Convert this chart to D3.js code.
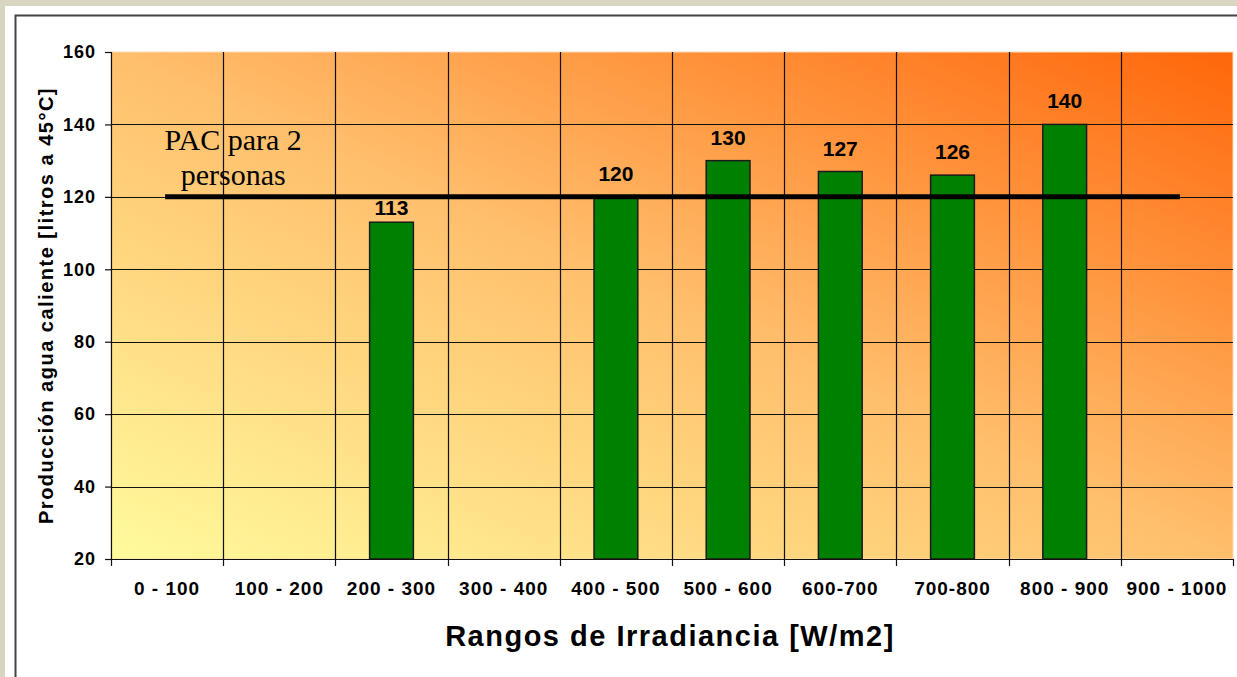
<!DOCTYPE html>
<html>
<head>
<meta charset="utf-8">
<script src="https://cdn.jsdelivr.net/npm/d3@7"></script>
<style>
  body { margin: 0; background: #d8d6c3; }
  #chart { position: absolute; left: 0; top: 0; }
  text { font-family: "Liberation Sans", Arial, sans-serif; }
</style>
</head>
<body>
<div id="chart"></div>
<script>
var categories = ["0 - 100", "100 - 200", "200 - 300", "300 - 400", "400 - 500",
                  "500 - 600", "600-700", "700-800", "800 - 900", "900 - 1000"];
var values = [null, null, 113, null, 120, 130, 127, 126, 140, null];
var yTicks = [20, 40, 60, 80, 100, 120, 140, 160];
var refValue = 120;
var refLabel = ["PAC para 2", "personas"];

var W = 1237, H = 677;
var margin = {top: 52, right: 4, bottom: 118, left: 111},
    width = W - margin.left - margin.right,
    height = H - margin.top - margin.bottom;

var root = d3.select("#chart")
  .append("svg")
    .attr("width", W)
    .attr("height", H);

// white panel with dark frame
root.append("rect")
  .attr("x", 5).attr("y", 6).attr("width", W - 5).attr("height", H - 6)
  .attr("fill", "#fff");
root.append("path")
  .attr("d", "M15.5," + H + "V15.5H" + W)
  .attr("fill", "none").attr("stroke", "#444").attr("stroke-width", 2);

var defs = root.append("defs");
var grad = defs.append("linearGradient")
  .attr("id", "bg")
  .attr("x1", 0).attr("y1", 1).attr("x2", 1).attr("y2", 0);
grad.append("stop").attr("offset", 0).attr("stop-color", "#fffb9c");
grad.append("stop").attr("offset", 0.5).attr("stop-color", "#ffbf6d");
grad.append("stop").attr("offset", 1).attr("stop-color", "#ff660a");

var svg = root.append("g")
  .attr("transform", "translate(" + margin.left + "," + margin.top + ")");

var x = d3.scaleBand()
  .domain(categories)
  .range([0, width])
  .paddingInner(0)
  .paddingOuter(0);

var y = d3.scaleLinear()
  .domain([20, 160])
  .range([height, 0]);

svg.append("rect")
  .attr("width", width).attr("height", height)
  .attr("fill", "url(#bg)")
  .attr("stroke", "#ffd9b5").attr("stroke-width", 1);

// grid
svg.append("g")
  .selectAll("line.h")
  .data(yTicks.filter(function(d){ return d > 20 && d < 160; }))
  .enter().append("line")
    .attr("x1", 0).attr("x2", width)
    .attr("y1", function(d){ return Math.round(y(d)) + 0.5; })
    .attr("y2", function(d){ return Math.round(y(d)) + 0.5; })
    .attr("stroke", "#111").attr("stroke-width", 1.2);

svg.append("g")
  .selectAll("line.v")
  .data(categories.slice(1))
  .enter().append("line")
    .attr("x1", function(d){ return Math.round(x(d)) + 0.5; })
    .attr("x2", function(d){ return Math.round(x(d)) + 0.5; })
    .attr("y1", 0).attr("y2", height)
    .attr("stroke", "#111").attr("stroke-width", 1.2);

// bars
var bw = x.bandwidth() * 0.39;
var data = categories.map(function(c, i){ return {cat: c, v: values[i]}; })
  .filter(function(d){ return d.v != null; });

var bars = svg.selectAll("g.bar")
  .data(data)
  .enter().append("g");

bars.append("rect")
  .attr("x", function(d){ return x(d.cat) + x.bandwidth()/2 - bw/2; })
  .attr("y", function(d){ return y(d.v); })
  .attr("width", bw)
  .attr("height", function(d){ return height - y(d.v); })
  .attr("fill", "#008000")
  .attr("stroke", "#1a1a1a").attr("stroke-width", 1.5);

// label above the bar; drop it closer if it would sit on the reference line
function labelY(d) {
  var base = y(d.v) - 16;
  if (base > y(refValue) && base - 16 < y(refValue) + 3) base = y(d.v) - 7;
  return base;
}
bars.append("text")
  .attr("x", function(d){ return x(d.cat) + x.bandwidth()/2; })
  .attr("y", labelY)
  .attr("text-anchor", "middle")
  .style("font-size", "21px").style("font-weight", "bold")
  .text(function(d){ return d.v; });

// reference line
svg.append("line")
  .attr("x1", x(categories[0]) + x.bandwidth()/2 - 2)
  .attr("x2", x(categories[categories.length - 1]) + x.bandwidth()/2 + 3)
  .attr("y1", y(refValue)).attr("y2", y(refValue))
  .attr("stroke", "#000").attr("stroke-width", 5);

svg.append("text")
  .attr("y", y(refValue) - 47)
  .attr("text-anchor", "middle")
  .style("font-family", "'Liberation Serif', 'DejaVu Serif', serif")
  .style("font-size", "30px")
  .selectAll("tspan")
  .data(refLabel)
  .enter().append("tspan")
    .attr("x", x(categories[1]) + 10)
    .attr("dy", function(d, i){ return i ? 35 : 0; })
    .text(function(d){ return d; });

// axes
var yAxis = svg.append("g")
  .call(d3.axisLeft(y).tickValues(yTicks).tickSize(6).tickPadding(9));
yAxis.select(".domain").attr("stroke", "#111").attr("stroke-width", 1.2);
yAxis.selectAll("line").attr("stroke", "#111").attr("stroke-width", 1.2);
yAxis.selectAll("text")
  .style("font-family", "'Liberation Sans', Arial, sans-serif")
  .style("font-size", "18px").style("font-weight", "bold")
  .style("letter-spacing", "1px").attr("fill", "#000");

var xAxis = svg.append("g")
  .attr("transform", "translate(0," + height + ")")
  .call(d3.axisBottom(x).tickSize(0).tickPadding(23));
xAxis.select(".domain").attr("stroke", "#111").attr("stroke-width", 1.2);
xAxis.selectAll("text")
  .style("font-family", "'Liberation Sans', Arial, sans-serif")
  .style("font-size", "19px").style("font-weight", "bold")
  .style("letter-spacing", "1px").attr("fill", "#000");

// x ticks at category boundaries
svg.append("g")
  .selectAll("line")
  .data(categories.concat(["end"]))
  .enter().append("line")
    .attr("x1", function(d, i){ return Math.round(i * x.step()) + 0.5; })
    .attr("x2", function(d, i){ return Math.round(i * x.step()) + 0.5; })
    .attr("y1", height).attr("y2", height + 7)
    .attr("stroke", "#111").attr("stroke-width", 1.2);

// axis titles
root.append("text")
  .attr("x", 670)
  .attr("y", 646)
  .attr("text-anchor", "middle")
  .style("font-size", "29px").style("font-weight", "bold")
  .style("letter-spacing", "1.5px")
  .text("Rangos de Irradiancia [W/m2]");

root.append("text")
  .attr("transform", "translate(53," + (margin.top + height / 2) + ")rotate(-90)")
  .attr("text-anchor", "middle")
  .style("font-size", "20px").style("font-weight", "bold")
  .style("letter-spacing", "1.5px")
  .text("Producción agua caliente [litros a 45°C]");
</script>
</body>
</html>
